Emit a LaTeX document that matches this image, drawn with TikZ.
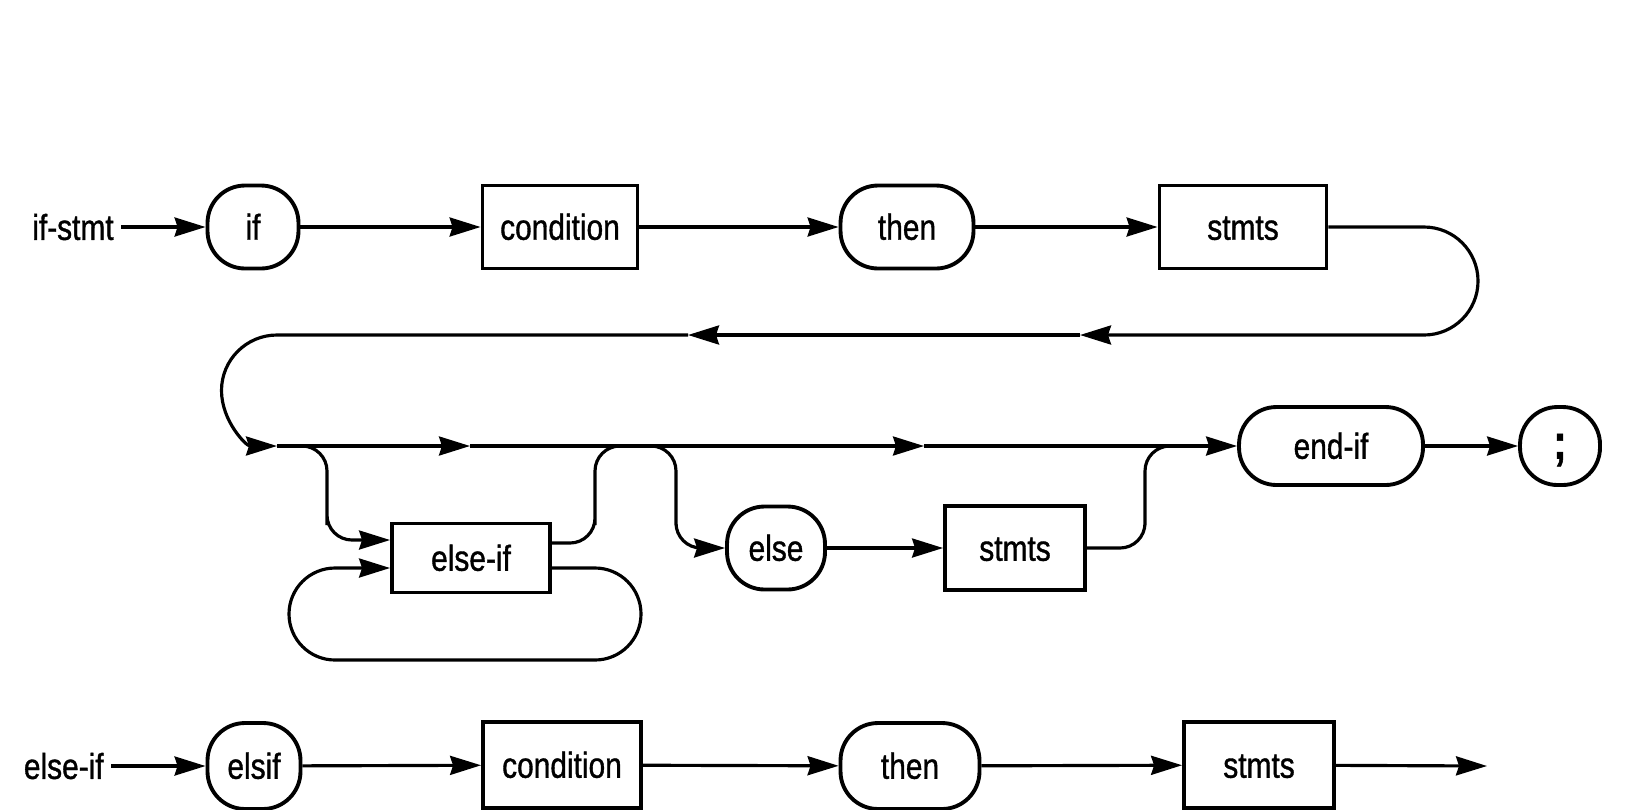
\documentclass[tikz,border=0pt]{standalone}
\usepackage{fontspec}
\setmainfont{Liberation Sans}[FakeStretch=0.83,FakeBold=1]
\usetikzlibrary{arrows.meta}
\begin{document}
\begin{tikzpicture}[x=0.02cm,y=-0.02cm,
  font=\fontsize{20.5}{24}\selectfont,
  box/.style={draw, line width=2.2pt, minimum height=1.66cm, inner sep=0pt,
              text height=14.5pt, text depth=0pt},
  term/.style={box, rounded corners=0.75cm},
  nonterm/.style={box},
  lbl/.style={inner sep=0.14cm},
  conn/.style={line width=1.8pt},
  arr/.style={conn, -{Stealth[length=0.62cm,width=0.38cm,inset=0.06cm]}},
]
\useasboundingbox (0,0) rectangle (1628,809);

% ---- row 1
\node[lbl, anchor=east] (ifstmt) at (121,227) {if-stmt};
\node[term, minimum width=1.82cm] (if) at (253,227) {if};
\node[nonterm, minimum width=3.1cm] (cond1) at (560,227) {condition};
\node[term, minimum width=2.66cm] (then1) at (907,227) {then};
\node[nonterm, minimum width=3.34cm] (stmts1) at (1243,227) {stmts};

\draw[arr] (ifstmt) -- (if);
\draw[arr] (if) -- (cond1);
\draw[arr] (cond1) -- (then1);
\draw[arr] (then1) -- (stmts1);

% ---- return path
\coordinate (ra) at (1080,335);
\coordinate (rb) at (688,335);
\coordinate (m0) at (277,446);
\draw[arr] (stmts1.east) -- (1424,227) arc[start angle=-90,end angle=90,radius=54] -- (ra);
\draw[arr] (ra) -- (rb);
\draw[arr] (rb) -- (277,335) arc[start angle=270,end angle=90,radius=55.5];

% ---- row 2 nodes
\node[nonterm, minimum width=3.16cm, minimum height=1.38cm] (elseif) at (471,558) {else-if};
\node[term, minimum width=1.96cm] (else) at (776,548) {else};
\node[nonterm, minimum width=2.8cm, minimum height=1.68cm] (stmts2) at (1015,548) {stmts};
\node[term, minimum width=3.68cm, minimum height=1.56cm] (endif) at (1331,446) {end-if};
\node[term, minimum width=1.6cm, minimum height=1.56cm] (semi) at (1560,446) {\fontsize{28}{28}\selectfont\textbf{;}};

% ---- main line
\coordinate (m1) at (470,446);
\coordinate (m2) at (924,446);
\coordinate (b1) at (292,446);
\coordinate (j1) at (625,446);
\coordinate (b2) at (648,446);
\coordinate (j2) at (1195,446);
\draw[arr] (m0) -- (m1);
\draw[arr] (m1) -- (m2);
\draw[arr] (m2) -- (endif);
\draw[arr] (endif) -- (semi);

% branch into else-if
\draw[arr, rounded corners=0.5cm] (b1) -| (327,500) |- ([yshift=0.36cm]elseif.west);
% else-if back to main line
\draw[conn, rounded corners=0.5cm] ([yshift=0.3cm]elseif.east) -| (595,500) |- (j1);
% loop around else-if
\draw[arr] ([yshift=-0.2cm]elseif.east) -- (595,568) arc[start angle=-90,end angle=90,radius=46]
   -- (335,660) arc[start angle=90,end angle=270,radius=46] -- ([yshift=-0.2cm]elseif.west);

% else branch
\draw[arr, rounded corners=0.5cm] (b2) -| (676,500) |- (else.west);
\draw[arr] (else) -- (stmts2);
\draw[conn, rounded corners=0.5cm] (stmts2.east) -| (1145,500) |- (j2);

% ---- bottom row
\node[lbl, anchor=east] (elseiflbl) at (111,766) {else-if};
\node[term, minimum width=1.86cm, minimum height=1.72cm] (elsif) at (254,766) {elsif};
\node[nonterm, minimum width=3.16cm, minimum height=1.72cm] (cond2) at (562,765) {condition};
\node[term, minimum width=2.78cm, minimum height=1.72cm] (then2) at (910,766) {then};
\node[nonterm, minimum width=3.0cm, minimum height=1.72cm] (stmts3) at (1259,765) {stmts};
\coordinate (fin) at (1487,766);

\draw[arr] (elseiflbl) -- (elsif);
\draw[arr] (elsif) -- (cond2);
\draw[arr] (cond2) -- (then2);
\draw[arr] (then2) -- (stmts3);
\draw[arr] (stmts3) -- (fin);
\end{tikzpicture}
\end{document}
